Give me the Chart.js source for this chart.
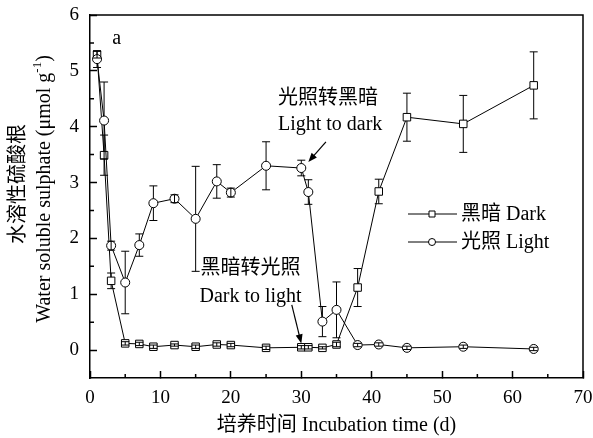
<!DOCTYPE html>
<html>
<head>
<meta charset="utf-8">
<script src="https://cdn.jsdelivr.net/npm/chart.js@4"></script>
<style>
html, body { margin: 0; padding: 0; background: #fff; }
#wrap { width: 593px; height: 438px; }
</style>
</head>
<body>
<div id="wrap"><canvas id="sulphateChart"></canvas></div>
<script>
const days = [1, 2, 3, 5, 7, 9, 12, 15, 18, 20, 25, 30, 31, 33, 35, 38, 41, 45, 53, 63];
const darkValues = [5.29, 3.49, 1.24, 0.12, 0.11, 0.06, 0.09, 0.06, 0.10, 0.09, 0.04, 0.05, 0.05, 0.04, 0.10, 1.12, 2.84, 4.17, 4.05, 4.74];
const darkErrors = [0.06, 0.36, 0.14, 0.03, 0.03, 0.03, 0.02, 0.03, 0.03, 0.03, 0.03, 0.03, 0.03, 0.02, 0.04, 0.34, 0.22, 0.43, 0.51, 0.60];
const lightValues = [5.21, 4.11, 1.87, 1.21, 1.88, 2.63, 2.71, 2.35, 3.02, 2.82, 3.30, 3.26, 2.83, 0.51, 0.72, 0.09, 0.10, 0.04, 0.06, 0.02];
const lightErrors = [0.15, 0.69, 0.08, 0.56, 0.20, 0.31, 0.07, 0.94, 0.30, 0.08, 0.43, 0.14, 0.22, 0.27, 0.50, 0.03, 0.03, 0.03, 0.03, 0.03];

const SERIF = "'Liberation Serif', 'Noto Sans CJK SC', serif";
Chart.defaults.font.family = SERIF;
Chart.defaults.color = '#000';

const ctx = document.getElementById('sulphateChart').getContext('2d');

const toPoints = (xs, ys) => xs.map((x, i) => ({ x: x, y: ys[i] }));

// error bars with caps, stem kept outside the marker unless the bar is tiny
const errorBars = {
    id: 'errorBars',
    afterDatasetsDraw(chart) {
        const c = chart.ctx;
        const yScale = chart.scales.y;
        c.save();
        c.strokeStyle = '#000';
        c.lineWidth = 1;
        chart.data.datasets.forEach((ds, i) => {
            const meta = chart.getDatasetMeta(i);
            const gap = ds.pointStyle === 'rect' ? ds.pointRadius * Math.SQRT1_2 : ds.pointRadius;
            meta.data.forEach((pt, j) => {
                const v = ds.data[j].y, e = ds.errors[j];
                const top = yScale.getPixelForValue(v + e);
                const bot = yScale.getPixelForValue(v - e);
                c.beginPath();
                if (bot - pt.y > gap + 1) {
                    c.moveTo(pt.x, top); c.lineTo(pt.x, pt.y - gap);
                    c.moveTo(pt.x, pt.y + gap); c.lineTo(pt.x, bot);
                } else {
                    c.moveTo(pt.x, top); c.lineTo(pt.x, bot);
                }
                c.moveTo(pt.x - 4, top); c.lineTo(pt.x + 4, top);
                c.moveTo(pt.x - 4, bot); c.lineTo(pt.x + 4, bot);
                c.stroke();
            });
        });
        c.restore();
    }
};

// minor ticks, top/right frame, legend, y title and the annotations
const decorations = {
    id: 'decorations',
    afterDraw(chart) {
        const c = chart.ctx;
        const { left, right, top, bottom } = chart.chartArea;
        const xs = chart.scales.x, ys = chart.scales.y;
        c.save();
        c.strokeStyle = '#000';
        c.fillStyle = '#000';

        // minor ticks
        c.lineWidth = 1.5;
        c.beginPath();
        for (let d = 5; d < 70; d += 10) {
            const px = xs.getPixelForValue(d);
            c.moveTo(px, bottom); c.lineTo(px, bottom - 4);
        }
        for (let v = 0.5; v < 6; v += 1) {
            const py = ys.getPixelForValue(v);
            c.moveTo(left, py); c.lineTo(left + 4, py);
        }
        c.stroke();

        // frame top and right
        c.beginPath();
        c.moveTo(left, top); c.lineTo(right, top); c.lineTo(right, bottom);
        c.stroke();

        // legend
        const rows = [
            { label: '黑暗 Dark', style: 'rect', y: top + 199 },
            { label: '光照 Light', style: 'circle', y: top + 227 }
        ];
        c.font = '20px ' + SERIF;
        c.textBaseline = 'middle';
        c.textAlign = 'left';
        rows.forEach(r => {
            const x0 = left + 318, x1 = left + 367, mx = left + 342;
            c.lineWidth = 1;
            c.beginPath(); c.moveTo(x0, r.y); c.lineTo(x1, r.y); c.stroke();
            c.fillStyle = '#fff';
            c.beginPath();
            if (r.style === 'rect') c.rect(mx - 3, r.y - 3, 6, 6);
            else c.arc(mx, r.y, 3.5, 0, Math.PI * 2);
            c.fill(); c.stroke();
            c.fillStyle = '#000';
            c.fillText(r.label, x1 + 4, r.y + 1);
        });

        // y axis title, two rotated lines
        c.save();
        c.translate(19, 184);
        c.rotate(-Math.PI / 2);
        c.textAlign = 'center';
        c.font = '20px ' + SERIF;
        c.fillText('水溶性硫酸根', 0, 0);
        c.restore();

        c.save();
        c.translate(45, 189);
        c.rotate(-Math.PI / 2);
        c.textAlign = 'left';
        const main = 'Water soluble sulphate (μmol g';
        const big = '20px ' + SERIF, small = '13px ' + SERIF;
        c.font = big; const w1 = c.measureText(main).width, w3 = c.measureText(')').width;
        c.font = small; const w2 = c.measureText('-1').width;
        let sx = -(w1 + w2 + w3) / 2;
        c.font = big; c.fillText(main, sx, 0); sx += w1;
        c.font = small; c.fillText('-1', sx, -7); sx += w2;
        c.font = big; c.fillText(')', sx, 0);
        c.restore();

        // annotations (data coordinates)
        const X = v => xs.getPixelForValue(v), Y = v => ys.getPixelForValue(v);
        c.textAlign = 'center';
        c.font = '20px ' + SERIF;
        c.fillText('a', X(3.8), Y(5.57));
        c.fillText('光照转黑暗', X(33.8), Y(4.50));
        c.fillText('Light to dark', X(34.1), Y(4.03));
        c.fillText('黑暗转光照', X(22.8), Y(1.45));
        c.fillText('Dark to light', X(22.8), Y(0.95));

        const arrow = (x1, y1, x2, y2) => {
            const ang = Math.atan2(y2 - y1, x2 - x1);
            c.lineWidth = 1.2;
            c.beginPath(); c.moveTo(x1, y1); c.lineTo(x2 - 6 * Math.cos(ang), y2 - 6 * Math.sin(ang)); c.stroke();
            c.beginPath();
            c.moveTo(x2, y2);
            c.lineTo(x2 - 9 * Math.cos(ang) + 3.5 * Math.sin(ang), y2 - 9 * Math.sin(ang) - 3.5 * Math.cos(ang));
            c.lineTo(x2 - 9 * Math.cos(ang) - 3.5 * Math.sin(ang), y2 - 9 * Math.sin(ang) + 3.5 * Math.cos(ang));
            c.closePath(); c.fill();
        };
        arrow(X(33.5), Y(3.73), X(31.0), Y(3.37));
        arrow(X(28.65), Y(0.81), X(30.0), Y(0.12));

        c.restore();
    }
};

const data = {
    datasets: [
        {
            label: '光照 Light',
            data: toPoints(days, lightValues),
            errors: lightErrors,
            borderColor: '#000',
            borderWidth: 1,
            pointStyle: 'circle',
            pointRadius: 4.5,
            pointBorderWidth: 1,
            pointBackgroundColor: '#fff',
            pointBorderColor: '#000',
            fill: false,
            order: 0
        },
        {
            label: '黑暗 Dark',
            data: toPoints(days, darkValues),
            errors: darkErrors,
            borderColor: '#000',
            borderWidth: 1,
            pointStyle: 'rect',
            pointRadius: 5.3,
            pointBorderWidth: 1,
            pointBackgroundColor: '#fff',
            pointBorderColor: '#000',
            fill: false,
            order: 1
        }
    ]
};

const config = {
    type: 'line',
    data: data,
    options: {
        responsive: true,
        maintainAspectRatio: false,
        animation: false,
        layout: { padding: { top: 15, right: 10, left: 0, bottom: 0 } },
        plugins: {
            legend: { display: false },
            tooltip: { enabled: false }
        },
        scales: {
            x: {
                type: 'linear',
                min: 0,
                max: 70,
                ticks: {
                    stepSize: 5,
                    autoSkip: false,
                    maxRotation: 0,
                    padding: 16,
                    font: { size: 19 },
                    color: '#000',
                    callback: v => (v % 10 === 0 ? v : '')
                },
                grid: {
                    drawOnChartArea: false,
                    tickLength: -7,
                    tickWidth: 1.5,
                    tickColor: c => (c.tick && c.tick.value % 10 === 0 ? '#000' : 'rgba(0,0,0,0)')
                },
                border: { color: '#000', width: 1.5 },
                title: {
                    display: true,
                    text: '培养时间 Incubation time (d)',
                    font: { size: 20, lineHeight: 1.2 },
                    color: '#000',
                    padding: { top: 0, bottom: 0 }
                },
                afterFit: s => { s.height = 60; s.paddingLeft = 0; s.paddingRight = 0; }
            },
            y: {
                min: -0.5,
                max: 6,
                ticks: {
                    stepSize: 0.5,
                    autoSkip: false,
                    padding: 18,
                    font: { size: 19 },
                    color: '#000',
                    callback: v => (Number.isInteger(v) ? v : '')
                },
                grid: {
                    drawOnChartArea: false,
                    tickLength: -7,
                    tickWidth: 1.5,
                    tickColor: c => (c.tick && Number.isInteger(c.tick.value) ? '#000' : 'rgba(0,0,0,0)')
                },
                border: { color: '#000', width: 1.5 },
                afterFit: s => { s.width = 90; s.paddingTop = 0; s.paddingBottom = 0; }
            }
        }
    },
    plugins: [errorBars, decorations]
};

const sulphateChart = new Chart(ctx, config);
</script>
</body>
</html>
